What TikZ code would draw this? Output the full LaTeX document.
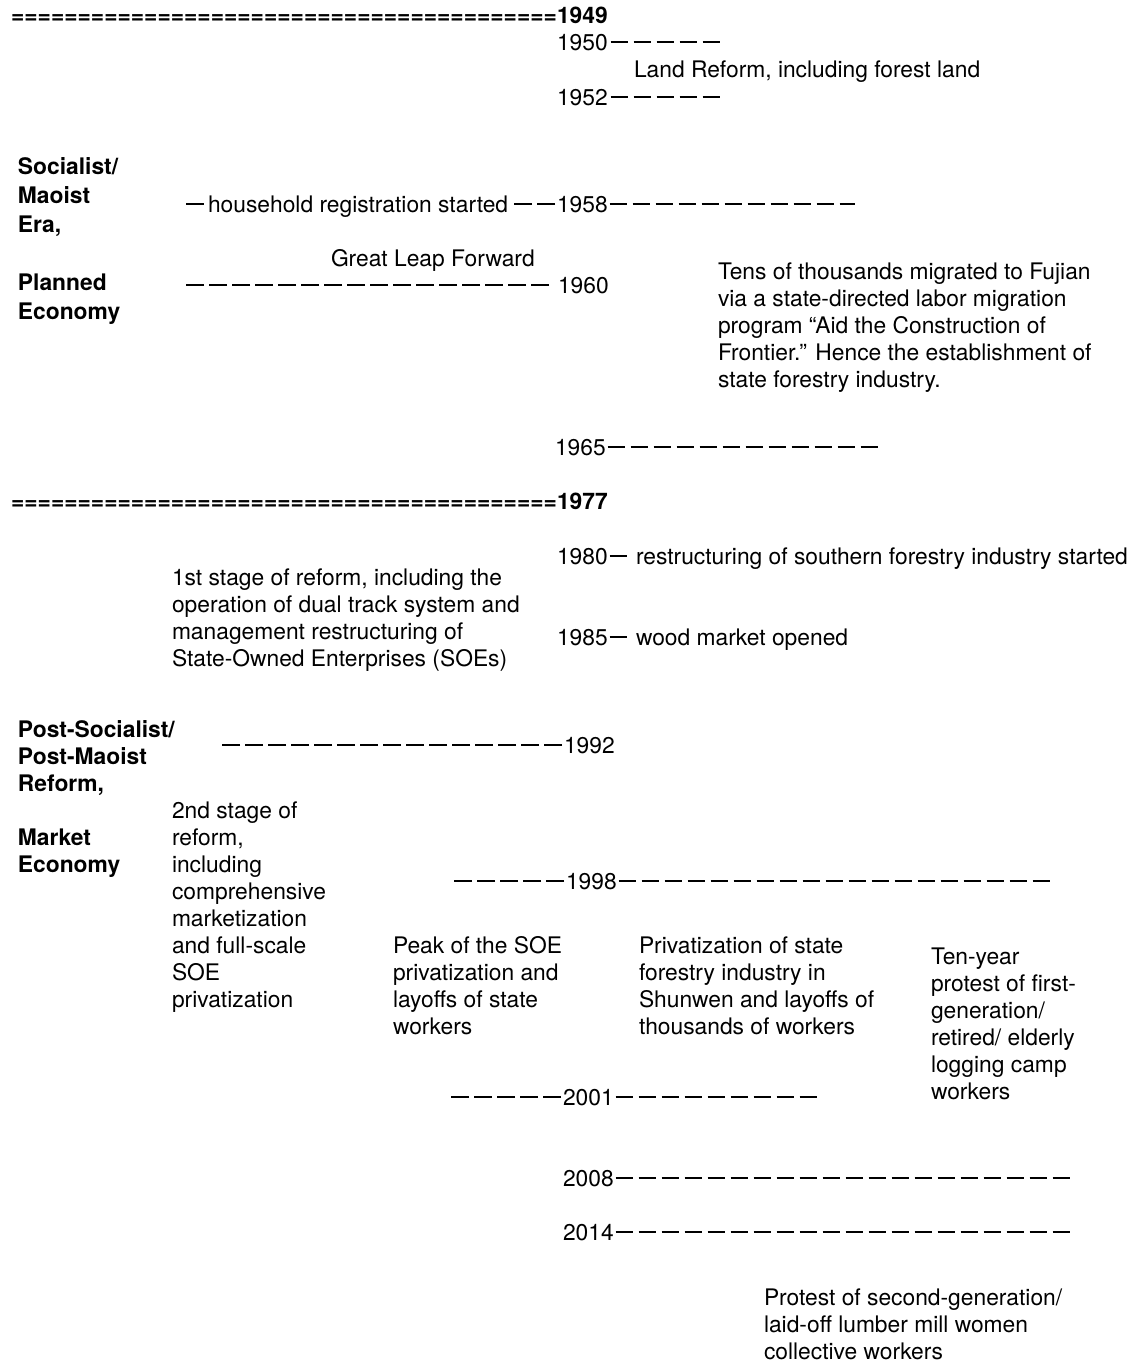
\documentclass[tikz,border=0pt]{standalone}
\usepackage{fontspec}
\setmainfont{TeX Gyre Heros}
\usetikzlibrary{calc}
\newcommand{\mlines}[1]{\begin{tabular}[t]{@{}l@{}}#1\end{tabular}}
\newcommand{\eqrow}{==========%
==========%
==========%
==========%
=}
\begin{document}
\begin{tikzpicture}[x=0.5pt,y=-0.5pt,
  every node/.style={inner sep=0pt, outer sep=0pt, anchor=base west,
    font=\fontsize{11.4}{13.5}\selectfont},
  bd/.style={font=\fontsize{11.4}{13.5}\selectfont\bfseries},
  bdw/.style={font=\fontsize{11.4}{14.5}\selectfont\bfseries},
  dl/.style={line width=0.8pt, dash pattern=on 8.85pt off 2.65pt},
]
\useasboundingbox (0,0) rectangle (1134,1362);

% ===== 1949
\node[bd, anchor=base east] (eqA) at (557,23) {\eqrow};
\node[bd] (y1949) at (557,23) {1949};

% 1950 / 1952
\node (y1950) at (557,50) {1950};
\coordinate (e1950) at (720,42);
\draw[dl] ($(y1950.east)+(3,0)$) -- (y1950.east -| e1950);
\node (land) at (634,77) {Land Reform, including forest land};
\node (y1952) at (557,105) {1952};
\coordinate (e1952) at (720,97);
\draw[dl] ($(y1952.east)+(3,0)$) -- (y1952.east -| e1952);

% era label
\node[bdw] (era1) at (18,174) {\mlines{Socialist/\\Maoist\\Era,\\ \\Planned\\Economy}};

% 1958
\node (hh) at (208,212) {household registration started};
\node (y1958) at (557,212) {1958};
\coordinate (s1958) at (186,204);
\coordinate (e1958) at (855,204);
\draw[dl] (s1958) -- ($(s1958 -| hh.west)+(-4,0)$);
\draw[dl] ($(y1958.west)+(-2,0)$) -- ($(y1958.west -| hh.east)+(2,0)$);
\draw[dl] ($(y1958.east)+(2,0)$) -- (y1958.east -| e1958);

% Great Leap Forward / 1960
\node (glf) at (331,266) {Great Leap Forward};
\node (y1960) at (558,293) {1960};
\coordinate (s1960) at (186,285);
\draw[dl] ($(y1960.west)+(-9,0)$) -- (y1960.west -| s1960);

\node (mig) at (718,279) {\mlines{Tens of thousands migrated to Fujian\\via a state-directed labor migration\\program “Aid the Construction of\\Frontier.” Hence the establishment of\\state forestry industry.}};

% 1965
\node (y1965) at (555,455) {1965};
\coordinate (e1965) at (878,447);
\draw[dl] ($(y1965.east)+(2,0)$) -- (y1965.east -| e1965);

% ===== 1977
\node[bd, anchor=base east] (eqB) at (557,509) {\eqrow};
\node[bd] (y1977) at (557,509) {1977};

% 1980 / 1985
\node (y1980) at (557,564) {1980};
\node (r1980) at (636,564) {restructuring of southern forestry industry started};
\draw[dl] ($(y1980.east)+(2,0)$) -- ($(y1980.east -| r1980.west)+(-8,0)$);
\node (stage1) at (172,585) {\mlines{1st stage of reform, including the\\operation of dual track system and\\management restructuring of\\State-Owned Enterprises (SOEs)}};
\node (y1985) at (557,645) {1985};
\node (w1985) at (636,645) {wood market opened};
\draw[dl] ($(y1985.east)+(2,0)$) -- ($(y1985.east -| w1985.west)+(-8,0)$);

% era label 2
\node[bd] (era2) at (18,737) {\mlines{Post-Socialist/\\Post-Maoist\\Reform,\\ \\Market\\Economy}};

% 1992
\node (y1992) at (564,753) {1992};
\coordinate (s1992) at (222,745);
\draw[dl] ($(y1992.west)+(-2,0)$) -- (y1992.west -| s1992);

\node (stage2) at (172,818) {\mlines{2nd stage of\\reform,\\including\\comprehensive\\marketization\\and full-scale\\SOE\\privatization}};

% 1998
\node (y1998) at (566,889) {1998};
\coordinate (s1998) at (453,881);
\coordinate (e1998) at (1050,881);
\draw[dl] ($(y1998.west)+(-2,0)$) -- (y1998.west -| s1998);
\draw[dl] ($(y1998.east)+(2,0)$) -- (y1998.east -| e1998);

\node (peak) at (393,953) {\mlines{Peak of the SOE\\privatization and\\layoffs of state\\workers}};
\node (priv) at (639,953) {\mlines{Privatization of state\\forestry industry in\\Shunwen and layoffs of\\thousands of workers}};
\node (tenyr) at (931,964) {\mlines{Ten-year\\protest of first-\\generation/\\retired/ elderly\\logging camp\\workers}};

% 2001
\node (y2001) at (563,1105) {2001};
\coordinate (s2001) at (451,1097);
\coordinate (e2001) at (818,1097);
\draw[dl] ($(y2001.west)+(-2,0)$) -- (y2001.west -| s2001);
\draw[dl] ($(y2001.east)+(2,0)$) -- (y2001.east -| e2001);

% 2008 / 2014
\node (y2008) at (563,1186) {2008};
\coordinate (e2008) at (1070,1178);
\draw[dl] ($(y2008.east)+(2,0)$) -- (y2008.east -| e2008);
\node (y2014) at (563,1240) {2014};
\coordinate (e2014) at (1070,1232);
\draw[dl] ($(y2014.east)+(2,0)$) -- (y2014.east -| e2014);

\node (prot2) at (764,1305) {\mlines{Protest of second-generation/\\laid-off lumber mill women\\collective workers}};
\end{tikzpicture}
\end{document}
